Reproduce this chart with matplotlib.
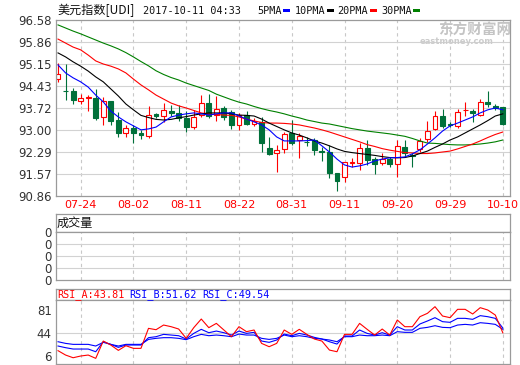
import matplotlib
matplotlib.use("Agg")
import matplotlib.pyplot as plt
from matplotlib.patches import Rectangle

# ---------------- data ----------------
dates = ['07-19', '07-20', '07-21', '07-24', '07-25', '07-26', '07-27', '07-28', '07-31', '08-01',
         '08-02', '08-03', '08-04', '08-07', '08-08', '08-09', '08-10', '08-11', '08-14', '08-15',
         '08-16', '08-17', '08-18', '08-21', '08-22', '08-23', '08-24', '08-25', '08-28', '08-29',
         '08-30', '08-31', '09-01', '09-04', '09-05', '09-06', '09-07', '09-08', '09-11', '09-12',
         '09-13', '09-14', '09-15', '09-18', '09-19', '09-20', '09-21', '09-22', '09-25', '09-26',
         '09-27', '09-28', '09-29', '10-02', '10-03', '10-04', '10-05', '10-06', '10-09', '10-10']
tick_dates = ['07-24', '08-02', '08-11', '08-22', '08-31', '09-11', '09-20', '09-29', '10-10']

opens = [94.66, 94.28, 94.27, 93.96, 94.06, 94.05, 93.44, 93.95, 93.33, 92.91,
         93.06, 92.92, 92.82, 93.52, 93.46, 93.63, 93.55, 93.40, 93.09, 93.49,
         93.87, 93.49, 93.71, 93.58, 93.17, 93.49, 93.20, 93.28, 92.41, 92.25,
         92.38, 92.90, 92.68, 92.62, 92.68, 92.32, 92.30, 91.60, 91.47, 91.93,
         91.94, 92.41, 92.06, 91.94, 92.06, 91.89, 92.46, 92.20, 92.38, 92.70,
         93.03, 93.46, 93.20, 93.14, 93.65, 93.62, 93.49, 93.90, 93.80, 93.74]
highs = [95.17, 95.15, 94.38, 94.17, 94.15, 94.33, 94.09, 93.96, 93.58, 93.17,
         93.17, 93.00, 93.79, 93.56, 93.89, 93.82, 93.82, 93.62, 93.65, 94.14,
         94.17, 94.10, 93.77, 93.65, 93.57, 93.63, 93.38, 93.44, 92.79, 92.52,
         92.95, 93.33, 92.90, 92.79, 92.74, 92.46, 92.52, 91.62, 91.98, 92.08,
         92.57, 92.68, 92.14, 92.25, 92.14, 92.68, 92.68, 92.25, 92.74, 93.30,
         93.63, 93.68, 93.28, 93.68, 93.93, 93.70, 94.00, 94.28, 93.85, 93.76]
lows = [94.57, 93.98, 93.85, 93.84, 93.63, 93.33, 93.16, 93.17, 92.79, 92.79,
        92.57, 92.71, 92.74, 93.39, 93.28, 93.45, 93.30, 92.95, 93.05, 93.44,
        93.40, 93.30, 93.34, 93.03, 93.00, 93.17, 93.14, 92.30, 92.19, 91.65,
        92.27, 92.52, 92.08, 92.49, 92.19, 92.01, 91.43, 91.03, 91.33, 91.80,
        91.72, 91.87, 91.58, 91.87, 91.80, 91.47, 92.14, 91.80, 92.30, 92.63,
        93.00, 93.06, 93.09, 93.06, 93.46, 93.28, 93.46, 93.76, 93.66, 93.17]
closes = [94.82, 94.26, 93.98, 94.03, 94.08, 93.40, 93.96, 93.31, 92.90, 93.08,
          92.92, 92.84, 93.49, 93.45, 93.66, 93.55, 93.40, 93.10, 93.44, 93.87,
          93.46, 93.68, 93.44, 93.17, 93.49, 93.20, 93.31, 92.57, 92.22, 92.36,
          92.87, 92.57, 92.82, 92.60, 92.34, 92.28, 91.60, 91.36, 91.95, 91.96,
          92.41, 92.03, 91.89, 92.05, 91.89, 92.48, 92.25, 92.15, 92.65, 92.98,
          93.46, 93.14, 93.16, 93.60, 93.67, 93.55, 93.92, 93.86, 93.72, 93.20]

ma5 = [95.12, 94.86, 94.70, 94.57, 94.40, 94.14, 93.92, 93.62, 93.43, 93.27,
       93.14, 93.01, 93.04, 93.10, 93.27, 93.43, 93.49, 93.53, 93.56, 93.53,
       93.49, 93.53, 93.56, 93.56, 93.46, 93.36, 93.27, 93.17, 93.01, 92.78,
       92.65, 92.65, 92.65, 92.66, 92.68, 92.49, 92.29, 92.06, 91.87, 91.80,
       91.84, 91.90, 92.00, 92.06, 92.10, 92.11, 92.13, 92.23, 92.36, 92.55,
       92.75, 92.97, 93.14, 93.23, 93.33, 93.43, 93.56, 93.66, 93.72, 93.66]
ma10 = [95.51, 95.38, 95.22, 95.08, 94.92, 94.73, 94.57, 94.34, 94.11, 93.85,
        93.66, 93.48, 93.41, 93.35, 93.33, 93.35, 93.40, 93.44, 93.49, 93.53,
        93.56, 93.56, 93.56, 93.53, 93.49, 93.48, 93.46, 93.36, 93.23, 93.12,
        93.01, 92.91, 92.84, 92.75, 92.65, 92.58, 92.49, 92.39, 92.31, 92.27,
        92.24, 92.21, 92.18, 92.14, 92.11, 92.10, 92.11, 92.16, 92.24, 92.32,
        92.44, 92.55, 92.68, 92.78, 92.91, 93.04, 93.17, 93.31, 93.46, 93.53]
ma20 = [95.96, 95.83, 95.70, 95.61, 95.44, 95.25, 95.15, 95.08, 94.99, 94.86,
        94.66, 94.47, 94.31, 94.14, 94.01, 93.88, 93.79, 93.72, 93.64, 93.56,
        93.52, 93.51, 93.49, 93.48, 93.43, 93.36, 93.30, 93.25, 93.23, 93.23,
        93.22, 93.20, 93.17, 93.12, 93.07, 93.01, 92.94, 92.86, 92.78, 92.70,
        92.62, 92.53, 92.47, 92.40, 92.35, 92.31, 92.27, 92.26, 92.24, 92.24,
        92.26, 92.29, 92.32, 92.39, 92.47, 92.55, 92.65, 92.76, 92.86, 92.94]
ma30 = [96.42, 96.32, 96.22, 96.13, 96.03, 95.93, 95.83, 95.74, 95.64, 95.52,
        95.38, 95.23, 95.09, 94.93, 94.81, 94.71, 94.63, 94.53, 94.45, 94.37,
        94.29, 94.17, 94.08, 93.99, 93.91, 93.85, 93.77, 93.70, 93.64, 93.59,
        93.53, 93.46, 93.40, 93.33, 93.28, 93.23, 93.20, 93.15, 93.10, 93.05,
        93.01, 92.97, 92.94, 92.91, 92.88, 92.84, 92.80, 92.73, 92.65, 92.58,
        92.57, 92.55, 92.53, 92.52, 92.52, 92.53, 92.55, 92.58, 92.62, 92.68]

rsi_a = [14.7, 7.6, 3.2, 6.0, 7.6, 2.2, 30.4, 23.9, 15.2, 22.8,
         18.5, 18.5, 51.1, 48.9, 56.5, 53.8, 50.0, 34.8, 52.2, 66.3,
         52.2, 59.2, 48.4, 37.5, 53.8, 45.7, 48.4, 26.6, 21.2, 26.6,
         48.4, 41.3, 49.5, 41.3, 33.7, 30.4, 15.7, 13.0, 41.3, 41.3,
         59.2, 49.5, 40.2, 50.0, 40.2, 64.7, 53.8, 53.8, 70.1, 75.6,
         86.4, 71.2, 68.5, 82.1, 82.1, 74.5, 84.8, 81.0, 72.8, 43.81]
rsi_b = [22.3, 19.6, 17.4, 17.4, 17.4, 13.0, 29.3, 25.0, 20.1, 23.9,
         23.9, 23.9, 35.9, 37.5, 41.3, 40.2, 39.1, 33.7, 42.9, 49.5,
         44.0, 46.7, 44.0, 40.2, 46.7, 42.9, 44.6, 30.4, 28.3, 32.1,
         41.8, 39.1, 42.9, 40.2, 36.4, 33.7, 29.3, 25.5, 38.6, 38.6,
         48.4, 42.9, 40.2, 44.0, 40.2, 53.8, 48.4, 48.4, 58.2, 63.1,
         68.5, 62.0, 60.9, 67.4, 67.4, 65.8, 71.8, 70.1, 67.4, 51.62]
rsi_c = [29.3, 26.6, 25.0, 25.0, 25.0, 22.3, 28.3, 25.0, 22.3, 25.0,
         25.0, 25.0, 33.1, 34.8, 35.9, 35.9, 34.8, 32.6, 37.5, 41.3,
         39.1, 40.2, 39.1, 37.5, 41.8, 40.2, 40.2, 34.8, 33.1, 34.8,
         40.2, 37.5, 39.1, 37.5, 34.8, 33.7, 32.1, 29.3, 37.5, 37.5,
         40.2, 39.1, 39.1, 40.2, 39.1, 45.7, 44.6, 44.6, 51.1, 52.7,
         55.4, 52.7, 52.2, 56.5, 57.6, 56.5, 60.3, 59.2, 57.6, 49.54]

price_ticks = [90.86, 91.57, 92.29, 93.00, 93.72, 94.43, 95.15, 95.86, 96.58]
rsi_ticks = [6, 44, 81]
volume_ticks = [0, 1, 2, 3, 4]
volume_labels = ['0', '0', '0', '0', '0']

# ---------------- layout helpers ----------------
W, H = 520, 365
fig = plt.figure(figsize=(W / 100, H / 100), dpi=100)
fig.patch.set_facecolor('white')

CJK = ['Noto Sans CJK SC', 'DejaVu Sans']
MONO = 'DejaVu Sans Mono'
FRAME = '#9a9a9a'
HGRID = '#d2d2d2'
VGRID = '#c8c8c8'
UP = '#ff0000'
DOWN = '#00703a'


def px_axes(l, t, r, b):
    return fig.add_axes([l / W, 1 - b / H, (r - l) / W, (b - t) / H])


def ftext(x, y, s, **kw):
    kw.setdefault('va', 'center')
    kw.setdefault('ha', 'left')
    return fig.text(x / W, 1 - y / H, s, **kw)


xs = list(range(len(dates)))
tick_idx = [dates.index(d) for d in tick_dates]
XLIM = (-0.27, 59.95)


def style(ax):
    for sp in ax.spines.values():
        sp.set_color(FRAME)
        sp.set_linewidth(0.9)
    ax.tick_params(length=0, labelsize=8.5, colors='#333333', pad=3)
    ax.set_xlim(*XLIM)
    for t in tick_idx:
        ax.axvline(t, color=VGRID, lw=0.8, ls=(0, (3, 3)), zorder=0)


# ---------------- main price panel ----------------
main = px_axes(56, 20, 510, 196)
style(main)
main.set_ylim(price_ticks[0], price_ticks[-1])
main.set_yticks(price_ticks)
main.set_yticklabels(['%.2f' % v for v in price_ticks])
for v in price_ticks[1:-1]:
    main.axhline(v, color=HGRID, lw=0.8, zorder=0)
main.set_xticks(tick_idx)
main.set_xticklabels(tick_dates, color=UP, fontsize=8)
main.tick_params(axis='x', pad=3, labelcolor=UP)

bw = 0.64
for i in xs:
    o, h, l, c = opens[i], highs[i], lows[i], closes[i]
    top, bot = max(o, c), min(o, c)
    if c >= o:
        main.plot([i, i], [top, h], color=UP, lw=0.8, zorder=2, solid_capstyle='butt')
        main.plot([i, i], [l, bot], color=UP, lw=0.8, zorder=2, solid_capstyle='butt')
        main.add_patch(Rectangle((i - bw / 2, bot), bw, max(top - bot, 0.004),
                                 facecolor='white', edgecolor=UP, lw=0.8, zorder=2))
    else:
        main.plot([i, i], [l, h], color=DOWN, lw=0.8, zorder=2, solid_capstyle='butt')
        main.add_patch(Rectangle((i - bw / 2, bot), bw, max(top - bot, 0.004),
                                 facecolor=DOWN, edgecolor=DOWN, lw=0.8, zorder=2))

main.plot(xs, ma30, color='#008000', lw=0.8, zorder=3)
main.plot(xs, ma20, color='#ff0000', lw=0.8, zorder=3)
main.plot(xs, ma10, color='#000000', lw=0.8, zorder=3)
main.plot(xs, ma5, color='#0000ff', lw=0.8, zorder=3)

# header texts
ftext(57, 10, '美元指数[UDI]', family=CJK, fontsize=8.7, color='#111111')
ftext(143, 10.5, '2017-10-11 04:33', family=MONO, fontsize=7.3, color='#111111')
legend_items = [('5PMA', 257, 283, '#0000ff'), ('10PMA', 295, 327, '#000000'),
                ('20PMA', 337, 370, '#ff0000'), ('30PMA', 381, 413, '#008000')]
for name, tx, dx, col in legend_items:
    ftext(tx, 10.5, name, family=MONO, fontsize=7.3, color='#111111')
    fig.add_artist(Rectangle((dx / W, 1 - 11.8 / H), 7 / W, 2.6 / H,
                             transform=fig.transFigure, facecolor=col, edgecolor='none'))

# watermark
ftext(438, 30, '东方财富网', family=CJK, fontsize=10.5, color='#c4c4c4', fontweight='bold')
ftext(420, 41.5, 'eastmoney.com', family='DejaVu Sans', fontsize=6, color='#cccccc',
      fontweight='bold')

# ---------------- volume panel ----------------
vh = px_axes(56, 214, 510, 232)
for sp in vh.spines.values():
    sp.set_color(FRAME)
    sp.set_linewidth(0.9)
vh.set_xticks([])
vh.set_yticks([])
ftext(57, 223, '成交量', family=CJK, fontsize=8.7, color='#111111')

vol = px_axes(56, 232, 510, 280)
style(vol)
vol.set_ylim(volume_ticks[0], volume_ticks[-1])
vol.set_yticks(volume_ticks)
vol.set_yticklabels(volume_labels)
vol.set_xticks([])
for v in volume_ticks[1:-1]:
    vol.axhline(v, color=HGRID, lw=0.8, zorder=0)

# ---------------- RSI panel ----------------
rh = px_axes(56, 289, 510, 300)
for sp in rh.spines.values():
    sp.set_color(FRAME)
    sp.set_linewidth(0.9)
rh.set_xticks([])
rh.set_yticks([])
ftext(57, 295, 'RSI_A:%.2f' % rsi_a[-1], family=MONO, fontsize=7.3, color='#ff0000')
ftext(129, 295, 'RSI_B:%.2f' % rsi_b[-1], family=MONO, fontsize=7.3, color='#0000ff')
ftext(202, 295, 'RSI_C:%.2f' % rsi_c[-1], family=MONO, fontsize=7.3, color='#0000ff')

rsi = px_axes(56, 300, 510, 364)
style(rsi)
rsi.set_ylim(-7, 97.3)
rsi.set_yticks(rsi_ticks)
rsi.set_yticklabels([str(v) for v in rsi_ticks])
rsi.set_xticks([])
rsi.axhline(rsi_ticks[1], color=HGRID, lw=0.8, zorder=0)
rsi.plot(xs, rsi_c, color='#0000ff', lw=0.8, zorder=3)
rsi.plot(xs, rsi_b, color='#0000ff', lw=0.8, zorder=3)
rsi.plot(xs, rsi_a, color='#ff0000', lw=0.8, zorder=3)

fig.savefig('out.png', dpi=100, facecolor='white')
